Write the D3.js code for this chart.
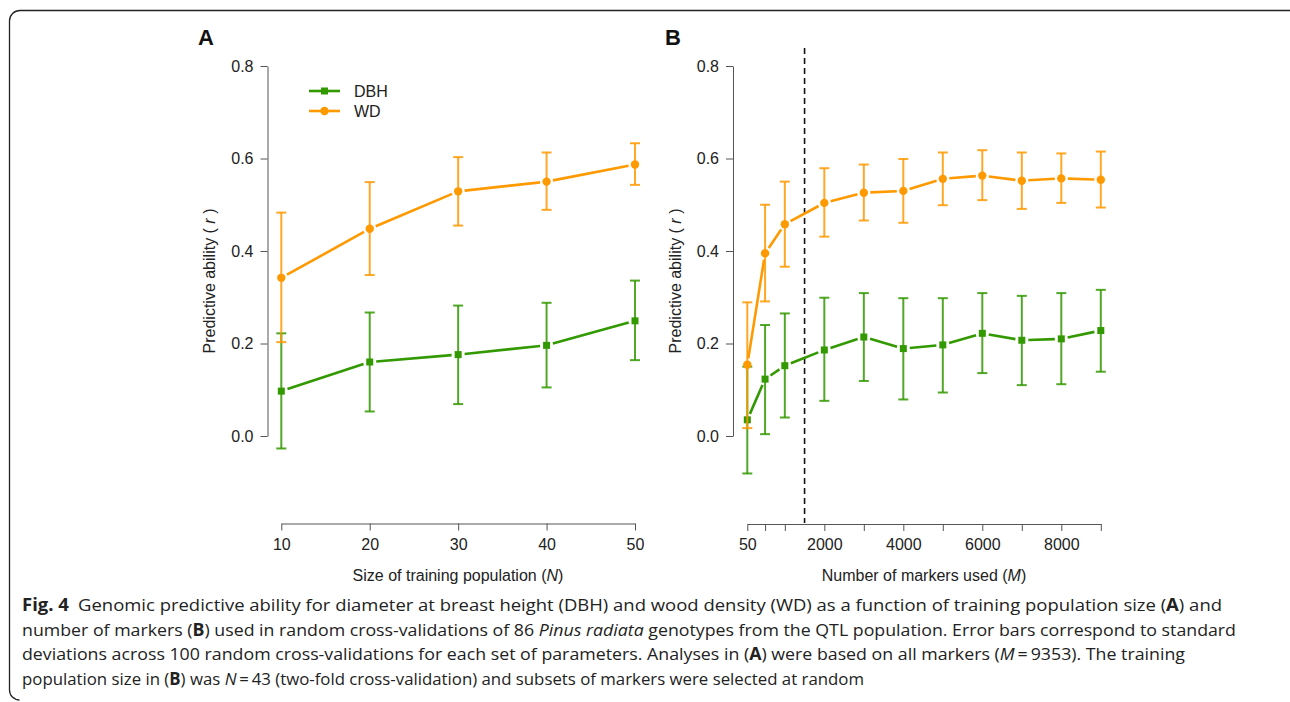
<!DOCTYPE html>
<html>
<head>
<meta charset="utf-8">
<script src="https://cdn.jsdelivr.net/npm/d3@7"></script>
<style>
  body { margin: 0; background: #fff; }
  svg { display: block; }
  .axis text { font-family: "Liberation Sans", Arial, sans-serif; font-size: 16px; fill: #222; }
  .axis path, .axis line { stroke: #555; stroke-width: 1; }
  .lbl { font-family: "Liberation Sans", Arial, sans-serif; font-size: 16px; fill: #222; }
  .panel-letter { font-family: "Liberation Sans", Arial, sans-serif; font-size: 22px; font-weight: bold; fill: #111; }
  .caption { font-family: "Open Sans", sans-serif; font-size: 17px; fill: #222; }
</style>
</head>
<body>
<svg id="chart" width="1290" height="702"></svg>
<script>
// ---- data ----
const popSize = [10, 20, 30, 40, 50];
const dbhA   = [0.097, 0.160, 0.176, 0.196, 0.249];
const dbhAHi = [0.222, 0.267, 0.282, 0.288, 0.336];
const dbhALo = [-0.027, 0.053, 0.069, 0.105, 0.164];
const wdA    = [0.342, 0.448, 0.529, 0.550, 0.587];
const wdAHi  = [0.483, 0.549, 0.603, 0.613, 0.633];
const wdALo  = [0.203, 0.348, 0.455, 0.489, 0.543];

const markerCount = [50, 500, 1000, 2000, 3000, 4000, 5000, 6000, 7000, 8000, 9000];
const dbhB   = [0.035, 0.123, 0.152, 0.186, 0.214, 0.189, 0.197, 0.222, 0.207, 0.210, 0.228];
const dbhBHi = [0.150, 0.240, 0.265, 0.299, 0.309, 0.298, 0.298, 0.309, 0.303, 0.309, 0.316];
const dbhBLo = [-0.081, 0.004, 0.040, 0.076, 0.119, 0.079, 0.094, 0.136, 0.110, 0.112, 0.139];
const wdB    = [0.154, 0.395, 0.458, 0.504, 0.526, 0.530, 0.556, 0.563, 0.552, 0.557, 0.554];
const wdBHi  = [0.289, 0.500, 0.550, 0.579, 0.587, 0.599, 0.613, 0.618, 0.613, 0.611, 0.615];
const wdBLo  = [0.017, 0.291, 0.366, 0.431, 0.466, 0.461, 0.499, 0.510, 0.491, 0.504, 0.494];

const yTicks = [0.0, 0.2, 0.4, 0.6, 0.8];
const popTicks = [10, 20, 30, 40, 50];
const markerTicks = [50, 500, 1000, 2000, 3000, 4000, 5000, 6000, 7000, 8000, 9000];
const markerTickLabels = [50, 2000, 4000, 6000, 8000];
const cutoffMarkers = 1500;

const GREEN = '#339900', ORANGE = '#ff9900';

const svg = d3.select('#chart');

class Panel {
  constructor(_config) {
    this.config = _config;
    this.initVis();
  }

  initVis() {
    let vis = this;
    const c = vis.config;

    vis.xScale = d3.scaleLinear().domain(c.xDomain).range(c.xRange);
    vis.yScale = d3.scaleLinear().domain([0, 0.8]).range([436, 66]);

    vis.g = svg.append('g');

    // y axis
    vis.g.append('g')
        .attr('class', 'axis')
        .attr('transform', `translate(${c.yAxisX},0)`)
        .call(d3.axisLeft(vis.yScale).tickValues(yTicks).tickSize(7).tickSizeOuter(0)
          .tickPadding(7).tickFormat(d3.format('.1f')));

    // x axis
    vis.g.append('g')
        .attr('class', 'axis')
        .attr('transform', `translate(0,${c.xAxisY})`)
        .call(d3.axisBottom(vis.xScale).tickValues(c.xTicks).tickSize(7).tickSizeOuter(0)
          .tickPadding(8).tickFormat(c.xFormat));

    // axis titles
    vis.g.append('text')
        .attr('class', 'lbl')
        .attr('text-anchor', 'middle')
        .attr('transform', `translate(${c.yLabelX},281) rotate(-90)`)
        .attr('dy', '0.35em')
        .html('Predictive ability ( <tspan font-style="italic">r</tspan> )');

    vis.g.append('text')
        .attr('class', 'lbl')
        .attr('text-anchor', 'middle')
        .attr('x', c.xLabelX)
        .attr('y', 581)
        .html(c.xLabel);

    vis.g.append('text')
        .attr('class', 'panel-letter')
        .attr('x', c.letterX)
        .attr('y', 45)
        .text(c.letter);
  }

  drawSeries(xs, ys, lo, hi, color, shape) {
    let vis = this;
    const pts = xs.map((x, i) => ({px: vis.xScale(x), py: vis.yScale(ys[i]),
      lo: vis.yScale(lo[i]), hi: vis.yScale(hi[i])}));

    // line segments with gaps around the points (type = "b")
    const gap = 6.5;
    const segs = d3.pairs(pts).map(([a, b]) => {
      const dx = b.px - a.px, dy = b.py - a.py;
      const len = Math.hypot(dx, dy);
      const ux = dx / len, uy = dy / len;
      return [a.px + ux * gap, a.py + uy * gap, b.px - ux * gap, b.py - uy * gap];
    });
    vis.g.append('g').selectAll('line')
        .data(segs)
      .join('line')
        .attr('x1', d => d[0]).attr('y1', d => d[1])
        .attr('x2', d => d[2]).attr('y2', d => d[3])
        .attr('stroke', color)
        .attr('stroke-width', 2.6);

    // error bars
    const eb = vis.g.append('g')
        .attr('stroke', color)
        .attr('stroke-width', 2)
        .attr('stroke-opacity', 0.85);
    eb.selectAll('.stem').data(pts).join('line')
        .attr('class', 'stem')
        .attr('x1', d => d.px).attr('x2', d => d.px)
        .attr('y1', d => d.lo).attr('y2', d => d.hi);
    eb.selectAll('.cap-hi').data(pts).join('line')
        .attr('class', 'cap-hi')
        .attr('x1', d => d.px - 5).attr('x2', d => d.px + 5)
        .attr('y1', d => d.hi).attr('y2', d => d.hi);
    eb.selectAll('.cap-lo').data(pts).join('line')
        .attr('class', 'cap-lo')
        .attr('x1', d => d.px - 5).attr('x2', d => d.px + 5)
        .attr('y1', d => d.lo).attr('y2', d => d.lo);

    // markers
    if (shape === 'square') {
      vis.g.append('g').selectAll('rect').data(pts).join('rect')
          .attr('x', d => d.px - 3.5).attr('y', d => d.py - 3.5)
          .attr('width', 7).attr('height', 7)
          .attr('fill', color);
    } else {
      vis.g.append('g').selectAll('circle').data(pts).join('circle')
          .attr('cx', d => d.px).attr('cy', d => d.py)
          .attr('r', 4.2)
          .attr('fill', color);
    }
  }
}

// ---- panel A ----
const panelA = new Panel({
  xDomain: [10, 50], xRange: [281.3, 635],
  xTicks: popTicks, xFormat: d3.format('d'),
  yAxisX: 267.5, xAxisY: 523.5,
  yLabelX: 209, xLabelX: 458,
  xLabel: 'Size of training population (<tspan font-style="italic">N</tspan>)',
  letter: 'A', letterX: 198
});
panelA.drawSeries(popSize, dbhA, dbhALo, dbhAHi, GREEN, 'square');
panelA.drawSeries(popSize, wdA, wdALo, wdAHi, ORANGE, 'circle');

// legend
const legend = svg.append('g').attr('transform', 'translate(309,91)');
[['DBH', GREEN, 'square'], ['WD', ORANGE, 'circle']].forEach(([name, col, shp], i) => {
  const row = legend.append('g').attr('transform', `translate(0,${i * 20})`);
  row.append('line').attr('x1', 0).attr('x2', 31).attr('stroke', col).attr('stroke-width', 2.6);
  if (shp === 'square') {
    row.append('rect').attr('x', 12).attr('y', -3.5).attr('width', 7).attr('height', 7).attr('fill', col);
  } else {
    row.append('circle').attr('cx', 15.5).attr('r', 4.2).attr('fill', col);
  }
  row.append('text').attr('class', 'lbl').attr('x', 45).attr('dy', '0.36em').text(name);
});

// ---- panel B ----
const panelB = new Panel({
  xDomain: [50, 9000], xRange: [747.3, 1100.8],
  xTicks: markerTicks,
  xFormat: d => markerTickLabels.includes(d) ? d : '',
  yAxisX: 733, xAxisY: 524,
  yLabelX: 675, xLabelX: 924,
  xLabel: 'Number of markers used (<tspan font-style="italic">M</tspan>)',
  letter: 'B', letterX: 665
});

// dashed cut-off line
panelB.g.append('line')
    .attr('x1', panelB.xScale(cutoffMarkers)).attr('x2', panelB.xScale(cutoffMarkers))
    .attr('y1', 48).attr('y2', 523)
    .attr('stroke', '#111')
    .attr('stroke-width', 1.6)
    .attr('stroke-dasharray', '6,4');

panelB.drawSeries(markerCount, dbhB, dbhBLo, dbhBHi, GREEN, 'square');
panelB.drawSeries(markerCount, wdB, wdBLo, wdBHi, ORANGE, 'circle');

// ---- frame ----
svg.append('path')
    .attr('d', 'M1290,10.5 H20 A10.5,10.5 0 0 0 9.5,21 V690 A10,10 0 0 0 19.5,700')
    .attr('fill', 'none')
    .attr('stroke', '#222')
    .attr('stroke-width', 1.3);

// ---- caption ----
const captionLines = [
  {w: 1200, html: '<tspan font-weight="bold">Fig. 4</tspan>\u2002Genomic predictive ability for diameter at breast height (DBH) and wood density (WD) as a function of training population size (<tspan font-weight="bold">A</tspan>) and'},
  {w: 1214, html: 'number of markers (<tspan font-weight="bold">B</tspan>) used in random cross-validations of 86 <tspan font-style="italic">Pinus radiata</tspan> genotypes from the QTL population. Error bars correspond to standard'},
  {w: 1163, html: 'deviations across 100 random cross-validations for each set of parameters. Analyses in (<tspan font-weight="bold">A</tspan>) were based on all markers (<tspan font-style="italic">M</tspan>\u2009=\u20099353). The training'},
  {w: 842, html: 'population size in (<tspan font-weight="bold">B</tspan>) was <tspan font-style="italic">N</tspan>\u2009=\u200943 (two-fold cross-validation) and subsets of markers were selected at random'}
];
svg.append('g').selectAll('text')
    .data(captionLines)
  .join('text')
    .attr('class', 'caption')
    .attr('x', 22)
    .attr('y', (d, i) => 611 + i * 24.5)
    .attr('textLength', d => d.w)
    .attr('lengthAdjust', 'spacingAndGlyphs')
    .html(d => d.html);
</script>
</body>
</html>
